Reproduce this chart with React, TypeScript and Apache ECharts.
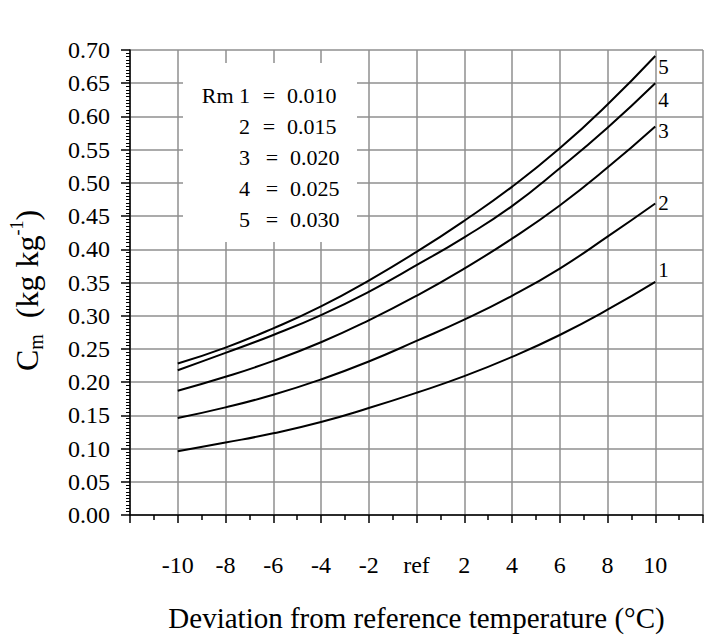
import React, { useEffect, useRef } from "react";
import * as echarts from "echarts";

// Deviation from reference temperature (°C)
const xValues = [-10, -8, -6, -4, -2, 0, 2, 4, 6, 8, 10];
// C_m (kg kg-1) for each Rm curve
const curve1 = [0.096, 0.109, 0.123, 0.140, 0.161, 0.184, 0.209, 0.238, 0.271, 0.309, 0.351];
const curve2 = [0.146, 0.162, 0.181, 0.204, 0.231, 0.262, 0.294, 0.330, 0.371, 0.419, 0.469];
const curve3 = [0.187, 0.208, 0.232, 0.260, 0.293, 0.330, 0.371, 0.416, 0.466, 0.523, 0.585];
const curve4 = [0.218, 0.244, 0.271, 0.301, 0.336, 0.376, 0.418, 0.465, 0.522, 0.583, 0.650];
const curve5 = [0.228, 0.252, 0.281, 0.314, 0.353, 0.396, 0.443, 0.494, 0.552, 0.618, 0.691];
const curveNames = ["1", "2", "3", "4", "5"];
const rmLabels = ["Rm 1", "2", "3", "4", "5"];
const rmValues = ["0.010", "0.015", "0.020", "0.025", "0.030"];

const FONT = "'Liberation Serif', 'Times New Roman', serif";

export default function App() {
  const ref = useRef<HTMLDivElement>(null);
  useEffect(() => {
    if (!ref.current) return;
    const chart = echarts.init(ref.current, null, { renderer: "svg" });
    const curves = [curve1, curve2, curve3, curve4, curve5];
    const labelOffsets = [
      [0, -12],
      [0, 0],
      [0, 5],
      [0, 17],
      [0, 11],
    ];
    const series = curves.map((c, i) => ({
      type: "line",
      name: curveNames[i],
      data: xValues.map((x, j) => [x, c[j]]),
      smooth: true,
      symbol: "none",
      lineStyle: { color: "#000", width: 2 },
      endLabel: {
        show: true,
        formatter: "{a}",
        fontFamily: FONT,
        fontSize: 21,
        color: "#000",
        distance: 3,
        offset: labelOffsets[i],
      },
    }));

    const legendX = 183;
    const legendY = 63;
    const rowGap = 31;
    const graphicChildren: any[] = [
      {
        type: "rect",
        shape: { x: legendX, y: legendY, width: 174, height: 179 },
        style: { fill: "#fff" },
        z: 10,
      },
    ];
    rmLabels.forEach((lab, i) => {
      const cy = 95 + i * rowGap;
      const dx = i >= 2 ? 3 : 0;
      const base = { fontFamily: FONT, fontSize: 22, fill: "#000", verticalAlign: "middle" };
      graphicChildren.push(
        { type: "text", x: 250, y: cy, z: 11, style: { ...base, text: lab, align: "right" } },
        { type: "text", x: 269 + dx, y: cy, z: 11, style: { ...base, text: "=", align: "center" } },
        { type: "text", x: 287 + dx, y: cy, z: 11, style: { ...base, text: rmValues[i], align: "left" } }
      );
    });

    const rich = {
      a: { fontFamily: FONT, fontSize: 32, fontWeight: "normal", color: "#000", lineHeight: 38 },
      sub: { fontFamily: FONT, fontSize: 20, fontWeight: "normal", color: "#000", verticalAlign: "bottom", lineHeight: 38, padding: [13, 0, 0, 0] },
      sup: { fontFamily: FONT, fontSize: 18, fontWeight: "normal", color: "#000", verticalAlign: "top", lineHeight: 38, padding: [0, 0, 15, 0] },
    };

    chart.setOption({
      animation: false,
      backgroundColor: "#fff",
      textStyle: { fontFamily: FONT, color: "#000" },
      grid: { left: 129, right: 20, top: 50, bottom: 125, containLabel: false },
      xAxis: {
        type: "value",
        min: -12,
        max: 12,
        interval: 2,
        name: "Deviation from reference temperature (°C)",
        nameLocation: "middle",
        nameGap: 88,
        nameTextStyle: { fontFamily: FONT, fontSize: 29, fontWeight: "normal", color: "#000" },
        axisLine: { show: true, onZero: false, lineStyle: { color: "#000", width: 1.5 } },
        axisTick: { show: true, inside: false, length: 8, lineStyle: { color: "#000", width: 1.5 } },
        minorTick: { show: true, splitNumber: 2, length: 5, lineStyle: { color: "#000", width: 1.5 } },
        splitLine: { show: true, lineStyle: { color: "#8f8f8f", width: 1.5 } },
        axisLabel: {
          fontFamily: FONT,
          fontSize: 24,
          color: "#000",
          margin: 38,
          formatter: (v: number) => (v === 0 ? "ref" : v === -12 || v === 12 ? "" : String(v)),
        },
      },
      yAxis: {
        type: "value",
        min: 0,
        max: 0.7,
        interval: 0.05,
        name: "{a|C}{sub|m}{a|  (kg kg}{sup|-1}{a|)}",
        nameLocation: "middle",
        nameRotate: 90,
        nameGap: 84,
        nameTextStyle: {
          fontFamily: FONT,
          fontWeight: "normal",
          color: "#000",
          padding: [0, 16, 0, 0],
          rich,
        },
        axisLine: { show: true, onZero: false, lineStyle: { color: "#000", width: 1.5 } },
        axisTick: { show: true, inside: false, length: 9, lineStyle: { color: "#000", width: 1.5 } },
        minorTick: { show: true, splitNumber: 10, length: 4, lineStyle: { color: "#000", width: 1 } },
        splitLine: { show: true, lineStyle: { color: "#8f8f8f", width: 1.5 } },
        axisLabel: {
          fontFamily: FONT,
          fontSize: 24,
          color: "#000",
          margin: 20,
          formatter: (v: number) => v.toFixed(2),
        },
      },
      graphic: graphicChildren,
      series,
    });
    return () => chart.dispose();
  }, []);
  return (
    <div
      ref={ref}
      style={{ position: "absolute", left: 0, top: 0, width: 723, height: 640, background: "#fff" }}
    />
  );
}
